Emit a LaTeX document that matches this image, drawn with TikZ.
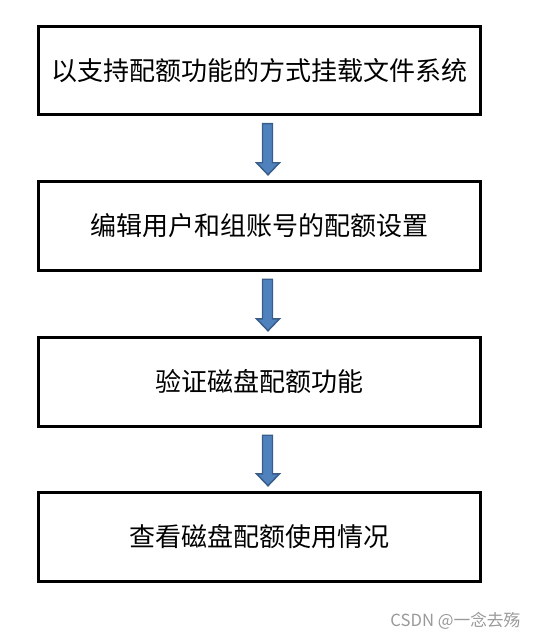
\documentclass[tikz,border=0pt]{standalone}
\usepackage{fontspec}
\newfontfamily\cjk{Noto Sans CJK SC}
\usetikzlibrary{calc}
\definecolor{arrfill}{HTML}{4F81BD}
\definecolor{arredge}{HTML}{385D8A}
\tikzset{
stepbox/.style={draw, line width=2.1pt, minimum width=331pt, minimum height=66.5pt,
  inner sep=0pt, font=\fontsize{19.5}{23}\cjk},
blockarrow/.style={draw=arredge, fill=arrfill, line width=1.1pt, line join=miter},
mark text/.style={text=black!40, font=\fontsize{12.5}{14}\cjk, anchor=east}
}
\begin{document}
\begin{tikzpicture}[x=0.75pt,y=-0.75pt]
  \useasboundingbox (0,0) rectangle (542,641);
  \node[stepbox] (s1) at (259.5,70.5) {以支持配额功能的方式挂载文件系统};
  \node[stepbox] (s2) at (259.5,226) {编辑用户和组账号的配额设置};
  \node[stepbox] (s3) at (259.5,382) {验证磁盘配额功能};
  \node[stepbox] (s4) at (259.5,537) {查看磁盘配额使用情况};
  % block arrows between the steps
  \foreach \a/\b in {s1/s2,s2/s3,s3/s4}{
    \draw[blockarrow] ($(\a.south)+(3,7.5)$) -- ($(\a.south)+(13,7.5)$)
      -- ($(\b.north)+(13,-17.5)$) -- ($(\b.north)+(20,-17.5)$)
      -- ($(\b.north)+(8.5,-5.5)$) -- ($(\b.north)+(-3,-17.5)$)
      -- ($(\b.north)+(3,-17.5)$) -- cycle;
  }
  \node[mark text] (wm) at (525,621) {CSDN @一念去殇};
\end{tikzpicture}
\end{document}
